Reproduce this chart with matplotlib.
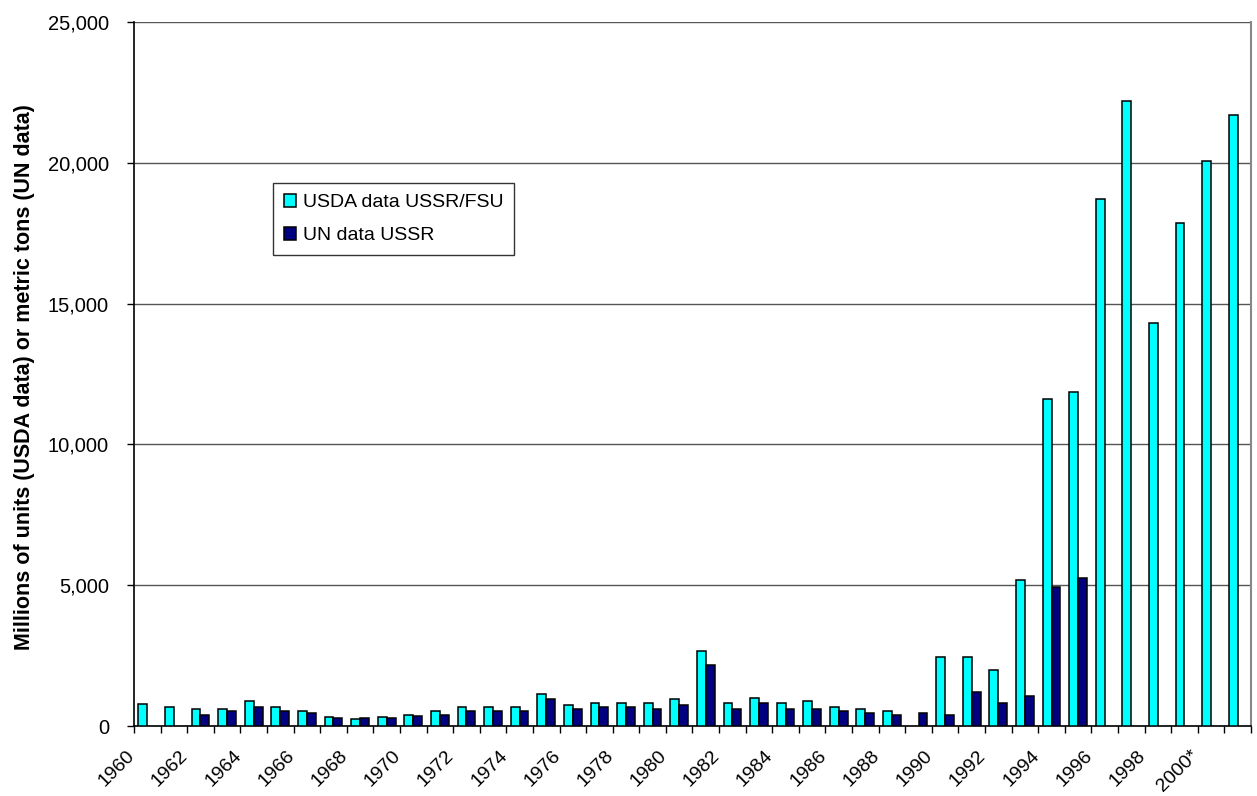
import numpy as np
import matplotlib
matplotlib.use("Agg")
from matplotlib import pyplot as plt
from matplotlib.transforms import ScaledTranslation

plt.rcParams['font.family'] = ['Liberation Sans', 'DejaVu Sans']

##### data
years = list(range(1960, 2002))
nan = np.nan
usda = [800, 675, 600, 600, 875, 675, 530, 330, 240, 330,
        400, 530, 675, 675, 675, 1150, 745, 805, 805, 805,
        945, 2650, 805, 1005, 805, 875, 675, 600, 530, nan,
        2450, 2450, 1975, 5180, 11600, 11870, 18700, 22200, 14310, 17870,
        20060, 21710]
un = [nan, nan, 400, 530, 675, 530, 475, 270, 270, 270,
      345, 400, 530, 530, 530, 945, 600, 675, 675, 600,
      745, 2180, 600, 805, 600, 600, 530, 475, 400, 475,
      400, 1220, 805, 1075, 4930, 5260, nan, nan, nan, nan,
      nan, nan]
tick_labels = [str(y) if y != 2000 else '2000*' for y in years[::2]]

fig = plt.figure(figsize=(12.57, 7.96), dpi=100)
ax = fig.add_axes([0.1066, 0.0879, 0.8886, 0.8845])

x = np.arange(len(years)) + 0.5
w = 1 / 3
ax.bar(x - w / 2, usda, w, color='#00FFFF', edgecolor='black', linewidth=1.1,
       label='USDA data USSR/FSU', zorder=3)
ax.bar(x + w / 2, un, w, color='#000080', edgecolor='black', linewidth=1.1,
       label='UN data USSR', zorder=3)

ax.set_xlim(0, len(years))
ax.set_ylim(0, 25000)
ax.set_yticks(range(0, 25001, 5000))
ax.set_yticklabels(['{:,}'.format(v) for v in range(0, 25001, 5000)], fontsize=14.5)
ax.yaxis.grid(True, color='#555555', linewidth=1.0, zorder=0)

# category boundaries as major ticks, labels on minor ticks at centres
ax.set_xticks(np.arange(0, len(years) + 1))
ax.set_xticklabels([])
ax.set_xticks(x[::2], minor=True)
ax.set_xticklabels(tick_labels, minor=True, rotation=45, ha='right', va='top',
                   fontsize=14)
ax.tick_params(axis='x', which='major', direction='out', length=5, width=1)
ax.tick_params(axis='x', which='minor', length=0, pad=15)
ax.tick_params(axis='y', direction='out', length=5, width=1, pad=13)
for lab in ax.get_xticklabels(minor=True):
    lab.set_transform(lab.get_transform() + ScaledTranslation(-0.09, 0, fig.dpi_scale_trans))

for s in ['left', 'bottom']:
    ax.spines[s].set_color('black')
    ax.spines[s].set_linewidth(1.2)
ax.spines['right'].set_color('#888888')
ax.spines['right'].set_linewidth(1.5)
ax.spines['top'].set_visible(False)

ax.set_ylabel('Millions of units (USDA data) or metric tons (UN data)',
              fontsize=15.5, fontweight='bold')
ax.yaxis.set_label_coords(-0.089, 0.495)

leg = ax.legend(loc='upper left', bbox_to_anchor=(0.1244, 0.771), fontsize=14,
                frameon=True, fancybox=False, edgecolor='black',
                handlelength=0.65, handleheight=0.65, handletextpad=0.35,
                borderpad=0.55, labelspacing=0.8, borderaxespad=0)
leg.get_frame().set_linewidth(1.0)

fig.savefig('out.png', dpi=100)
